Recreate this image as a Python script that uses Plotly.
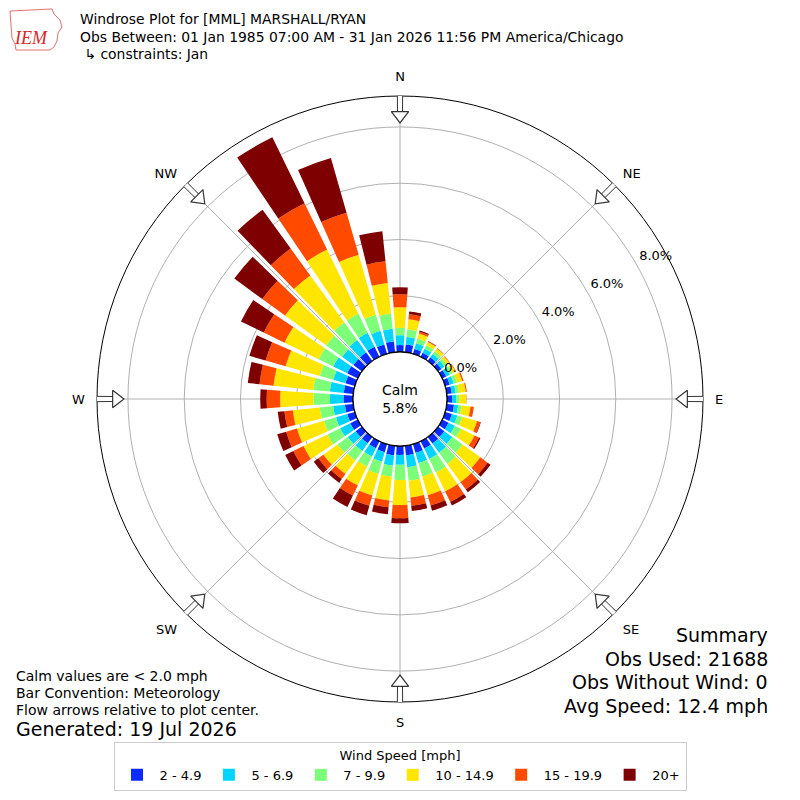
import plotly.graph_objects as go

# wind direction bins (deg, meteorological), 10 deg wide
directions = [0, 10, 20, 30, 40, 50, 60, 70, 80, 90, 100, 110,
              120, 130, 140, 150, 160, 170, 180, 190, 200, 210, 220, 230,
              240, 250, 260, 270, 280, 290, 300, 310, 320, 330, 340, 350]

speed_bins = ['2 - 4.9', '5 - 6.9', '7 - 9.9', '10 - 14.9', '15 - 19.9', '20+']
bin_colors = ['#0a2bff', '#00d4ff', '#7dff7a', '#ffe600', '#ff4a00', '#7f0000']

# percent of obs in each speed bin, per direction
pct_2_5 = [0.25, 0.28, 0.18, 0.16, 0.16, 0.15, 0.16, 0.17, 0.18, 0.19, 0.26, 0.25,
           0.25, 0.28, 0.29, 0.29, 0.32, 0.35, 0.32, 0.35, 0.30, 0.28, 0.28, 0.28,
           0.30, 0.28, 0.30, 0.34, 0.34, 0.35, 0.42, 0.38, 0.38, 0.40, 0.35, 0.39]
pct_5_7 = [0.35, 0.27, 0.21, 0.16, 0.15, 0.14, 0.14, 0.15, 0.14, 0.14, 0.15, 0.20,
           0.25, 0.35, 0.40, 0.41, 0.38, 0.42, 0.35, 0.36, 0.35, 0.32, 0.33, 0.35,
           0.40, 0.42, 0.42, 0.48, 0.50, 0.45, 0.55, 0.50, 0.54, 0.55, 0.50, 0.45]
pct_7_10 = [0.26, 0.27, 0.18, 0.14, 0.12, 0.11, 0.11, 0.12, 0.12, 0.11, 0.12, 0.18,
            0.25, 0.45, 0.50, 0.54, 0.50, 0.48, 0.54, 0.40, 0.45, 0.40, 0.42, 0.45,
            0.50, 0.44, 0.48, 0.59, 0.59, 0.50, 0.58, 0.70, 0.78, 0.75, 0.60, 0.54]
pct_10_15 = [0.73, 0.36, 0.18, 0.12, 0.12, 0.11, 0.12, 0.19, 0.24, 0.25, 0.32, 0.55,
             0.53, 0.78, 0.80, 0.75, 0.69, 0.60, 0.89, 0.85, 0.80, 0.75, 0.60, 0.62,
             0.95, 1.00, 0.96, 1.18, 1.42, 1.26, 1.35, 1.80, 2.06, 2.54, 2.21, 1.10]
pct_15_20 = [0.46, 0.18, 0.07, 0.03, 0.02, 0.02, 0.02, 0.05, 0.04, 0.01, 0.12, 0.12,
             0.18, 0.32, 0.32, 0.41, 0.38, 0.30, 0.47, 0.24, 0.38, 0.40, 0.22, 0.22,
             0.40, 0.40, 0.30, 0.48, 0.50, 0.74, 0.82, 1.00, 1.18, 1.83, 1.56, 0.77]
pct_20_up = [0.25, 0.10, 0.04, 0.01, 0.00, 0.00, 0.00, 0.00, 0.00, 0.00, 0.00, 0.02,
             0.05, 0.13, 0.12, 0.14, 0.19, 0.18, 0.18, 0.25, 0.35, 0.45, 0.16, 0.20,
             0.32, 0.33, 0.24, 0.23, 0.42, 0.60, 0.90, 1.23, 1.70, 2.61, 2.02, 1.08]

compass_ticks = [0, 45, 90, 135, 180, 225, 270, 315]
compass_labels = ['N', 'NE', 'E', 'SE', 'S', 'SW', 'W', 'NW']
ring_ticks = [0, 2, 4, 6, 8]
ring_labels = ['0.0%', '2.0%', '4.0%', '6.0%', '8.0%']

calm_pct = 5.8
summary = ['Summary', 'Obs Used: 21688', 'Obs Without Wind: 0', 'Avg Speed: 12.4 mph']
notes = ['Calm values are < 2.0 mph', 'Bar Convention: Meteorology',
         'Flow arrows relative to plot center.']

FONT = 'DejaVu Sans'
r_max = 9.1
OFF = 8  # page body margin


def px_x(x):
    return (x - OFF) / 800


def px_y(y):
    return (800 + OFF - y) / 800


fig = go.Figure()

all_bins = [pct_2_5, pct_5_7, pct_7_10, pct_10_15, pct_15_20, pct_20_up]
for name, color, vals in zip(speed_bins, bin_colors, all_bins):
    fig.add_trace(go.Barpolar(r=vals, theta=directions, width=8, name=name,
                              marker=dict(color=color, line=dict(width=0))))

# black ring around the calm hole
ring_theta = list(range(0, 361, 3))
fig.add_trace(go.Scatterpolar(r=[0] * len(ring_theta), theta=ring_theta, mode='lines',
                              line=dict(color='black', width=1.5), showlegend=False,
                              hoverinfo='skip', cliponaxis=False))

# hollow flow arrows at compass points (own subplot so they don't stack on the bars)
fig.add_trace(go.Barpolar(r=[0.72] * 8, base=[8.5] * 8, theta=compass_ticks, width=1.0,
                          marker=dict(color='white', line=dict(color='#333333', width=1)),
                          showlegend=False, hoverinfo='skip', subplot='polar2'))
fig.add_trace(go.Scatterpolar(r=[8.41] * 8, theta=compass_ticks, mode='markers',
                              marker=dict(symbol='triangle-up', size=15,
                                          angle=[d + 180 for d in compass_ticks],
                                          color='white', line=dict(color='#333333', width=1.2)),
                              showlegend=False, hoverinfo='skip', cliponaxis=False,
                              subplot='polar2'))

# ring labels sit off the rings, so they get their own invisible polar
fig.add_trace(go.Scatterpolar(r=[0], theta=[0], mode='markers', marker=dict(opacity=0),
                              showlegend=False, hoverinfo='skip', subplot='polar3'))

dom = dict(x=[px_x(97), px_x(703)], y=[px_y(702), px_y(96)])
dom3 = dict(x=[px_x(130), px_x(730)], y=[px_y(704), px_y(104)])
hidden_ang = dict(direction='clockwise', rotation=90, visible=False)
fig.update_layout(
    width=800, height=800,
    margin=dict(l=0, r=0, t=0, b=0),
    paper_bgcolor='white',
    font=dict(family=FONT, size=13, color='black'),
    polar=dict(
        domain=dom,
        hole=0.155,
        bgcolor='white',
        angularaxis=dict(direction='clockwise', rotation=90,
                         tickvals=compass_ticks, ticktext=compass_labels,
                         showline=True, linecolor='black', linewidth=1,
                         gridcolor='#b0b0b0', ticks='outside', ticklen=9,
                         tickcolor='rgba(0,0,0,0)', tickfont=dict(size=13),
                         layer='above traces'),
        radialaxis=dict(range=[0, r_max], tickvals=ring_ticks, showticklabels=False,
                        showline=False, gridcolor='#b0b0b0', ticks='',
                        layer='above traces'),
    ),
    polar2=dict(domain=dom, hole=0.155, bgcolor='rgba(0,0,0,0)', angularaxis=hidden_ang,
                radialaxis=dict(range=[0, r_max], visible=False), barmode='overlay'),
    polar3=dict(domain=dom3, hole=0.2, bgcolor='rgba(0,0,0,0)', angularaxis=hidden_ang,
                radialaxis=dict(range=[0, 240 / 28.15], tickvals=ring_ticks, ticktext=ring_labels,
                                showgrid=False, showline=False, ticks='', angle=30,
                                tickangle=30, side='counterclockwise',
                                tickfont=dict(size=13))),
    legend=dict(orientation='h', x=px_x(400), xanchor='center', y=px_y(742), yanchor='top',
                title=dict(text='Wind Speed [mph]', side='top center', font=dict(size=13)),
                bordercolor='#cccccc', borderwidth=1, font=dict(size=13),
                itemwidth=35, traceorder='normal'),
)

ann = []
title_lines = ['Windrose Plot for [MML] MARSHALL/RYAN',
               'Obs Between: 01 Jan 1985 07:00 AM - 31 Jan 2026 11:56 PM America/Chicago',
               ' \u21b3 constraints: Jan']
for i, t in enumerate(title_lines):
    ann.append(dict(text=t, x=px_x(78), y=px_y(19 + 17.5 * i), xanchor='left',
                    yanchor='middle', font=dict(size=13.9)))
ann.append(dict(text='<i>IEM</i>', x=px_x(31), y=px_y(38), xanchor='center',
                yanchor='middle', font=dict(family='Liberation Serif', size=18, color='#d62728')))
ann.append(dict(text=f'Calm<br>{calm_pct}%', x=px_x(400), y=px_y(399), xanchor='center',
                yanchor='middle', font=dict(size=14)))
for i, t in enumerate(notes):
    ann.append(dict(text=t, x=px_x(14), y=px_y(676 + 17 * i), xanchor='left',
                    yanchor='middle', font=dict(size=14)))
ann.append(dict(text='Generated: 19 Jul 2026', x=px_x(14), y=px_y(729), xanchor='left',
                yanchor='middle', font=dict(size=19)))
for i, t in enumerate(summary):
    ann.append(dict(text=t, x=px_x(770), y=px_y(635 + 23.5 * i), xanchor='right',
                    yanchor='middle', font=dict(size=19)))
for a in ann:
    a.update(xref='paper', yref='paper', showarrow=False)

# rough state outline behind the IEM logo
logo_pts = [(10, 11), (52, 9), (54, 14), (60, 20), (62, 27), (58, 33), (57, 41),
            (54, 47), (50, 50), (16, 50), (15, 44), (12, 38), (11, 25)]
logo_path = 'M' + ' L'.join(f'{px_x(x):.4f},{px_y(y):.4f}' for x, y in logo_pts) + ' Z'
fig.update_layout(annotations=ann,
                  shapes=[dict(type='path', path=logo_path, xref='paper', yref='paper',
                               line=dict(color='#e07070', width=1))])

fig.write_html('out.html')
